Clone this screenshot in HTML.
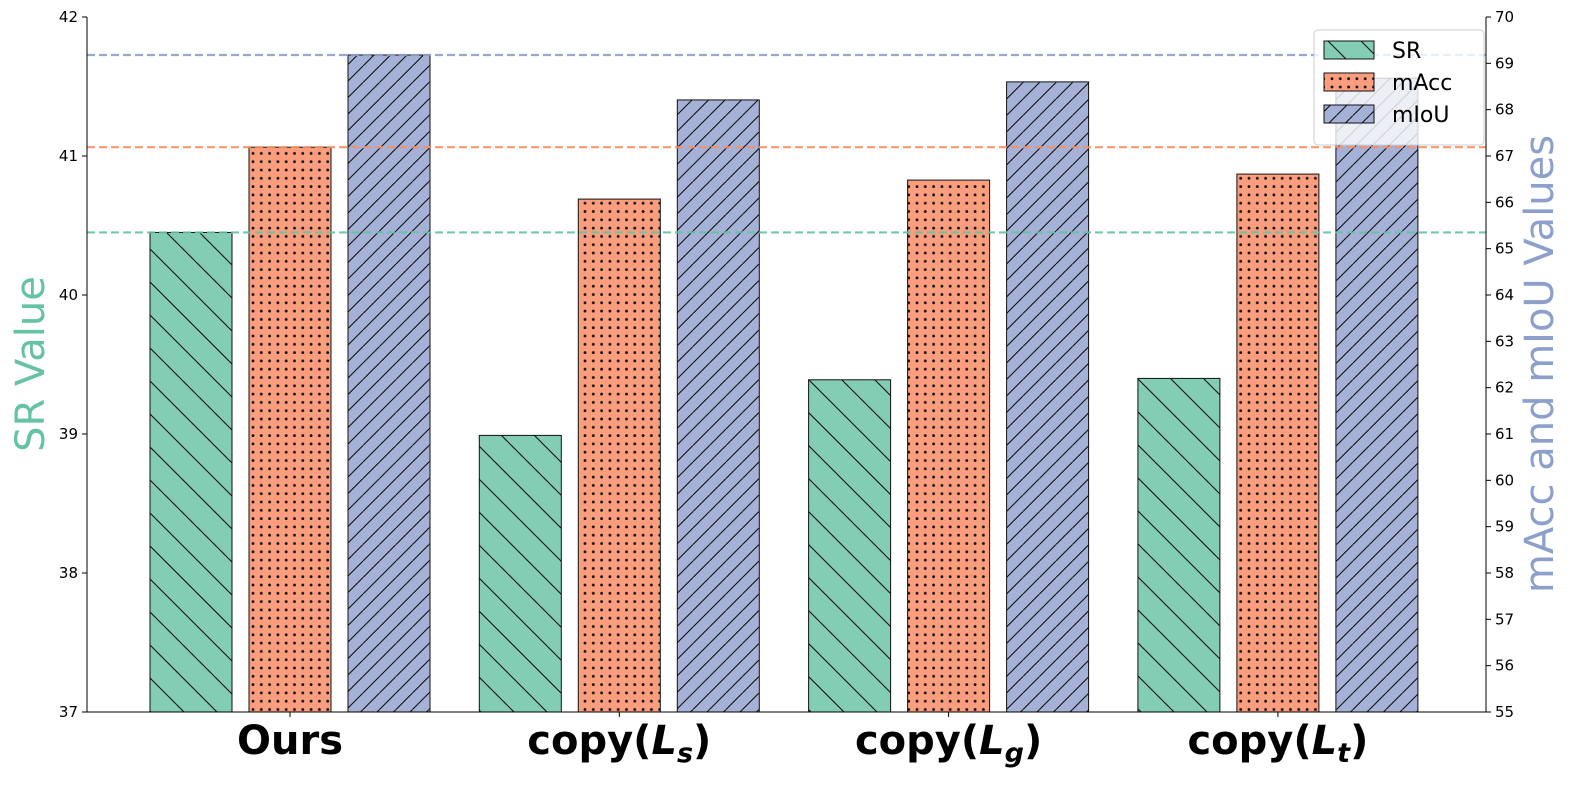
<!DOCTYPE html>
<html><head><meta charset="utf-8"><style>
html,body{margin:0;padding:0;background:#fff;overflow:hidden;width:1589px;height:790px;}
svg{display:block;font-family:"DejaVu Sans","Liberation Sans",sans-serif;}
</style></head><body>
<svg id="chart" width="1589" height="790" viewBox="0 0 1589 790" xmlns="http://www.w3.org/2000/svg">
<defs>
<pattern id="hSR" patternUnits="userSpaceOnUse" width="33" height="33"><rect width="33" height="33" fill="#83cdb4"/><path d="M0,0L33,33M-33,0L0,33M33,0L66,33M0,-33L33,0M0,33L33,66" stroke="#111" stroke-width="1.1"/></pattern>
<pattern id="hAcc" patternUnits="userSpaceOnUse" width="8.3" height="8.3"><rect width="8.3" height="8.3" fill="#fc9e7e"/><circle cx="4" cy="4" r="1.4" fill="#111"/></pattern>
<pattern id="hIoU" patternUnits="userSpaceOnUse" width="16.5" height="16.5"><rect width="16.5" height="16.5" fill="#a5b1d6"/><path d="M0,16.5L16.5,0M-16.5,16.5L0,0M16.5,16.5L33,0" stroke="#111" stroke-width="1.1"/></pattern>
</defs>
<g id="plot"></g>
</svg>
<script>
const categories=["Ours","copy(Ls)","copy(Lg)","copy(Lt)"];
const catSub=["","s","g","t"];
const srValues=[40.45,38.99,39.39,39.40];
const maccValues=[67.19,66.07,66.48,66.61];
const miouValues=[69.18,68.21,68.60,68.68];
const leftTicks=[37,38,39,40,41,42];
const rightTicks=[55,56,57,58,59,60,61,62,63,64,65,66,67,68,69,70];

const NS="http://www.w3.org/2000/svg";
const g=document.getElementById('plot');
const X0=87,X1=1486,Y0=712,Y1=17;
const yL=v=>Y0-(v-37)/(42-37)*(Y0-Y1);
const yR=v=>Y0-(v-55)/(70-55)*(Y0-Y1);
const xC=i=>290+i*329.3;
function mk(t,a,txt){const e=document.createElementNS(NS,t);for(const k in a)e.setAttribute(k,a[k]);if(txt!==undefined)e.textContent=txt;g.appendChild(e);return e;}

const series=[
 {vals:srValues,fill:"url(#hSR)",y:yL,off:-99,name:"sr"},
 {vals:maccValues,fill:"url(#hAcc)",y:yR,off:0,name:"macc"},
 {vals:miouValues,fill:"url(#hIoU)",y:yR,off:99,name:"miou"}];
series.forEach(s=>{
 s.vals.forEach((v,i)=>{
  const top=s.y(v);
  const r=mk('rect',{x:xC(i)+s.off-41,y:top,width:82,height:Y0-top,fill:s.fill,stroke:"#111","stroke-width":1});
  
  
 });
});
[[yL(srValues[0]),"#66c2a5","ref-line-sr"],[yR(maccValues[0]),"#fc8d62","ref-line-macc"],[yR(miouValues[0]),"#8da0cb","ref-line-miou"]].forEach(d=>{
 const l=mk('line',{x1:X0,x2:X1,y1:d[0],y2:d[0],stroke:d[1],"stroke-width":2.2,"stroke-dasharray":"8,4",opacity:0.9});
 
 
});
let a=mk('line',{x1:X0,x2:X0,y1:Y1,y2:Y0,stroke:"#000","stroke-width":1});

a=mk('line',{x1:X1,x2:X1,y1:Y1,y2:Y0,stroke:"#000","stroke-width":1});

a=mk('line',{x1:X0,x2:X1,y1:Y0,y2:Y0,stroke:"#000","stroke-width":1});

leftTicks.forEach(t=>{const y=yL(t);mk('line',{x1:X0-5,x2:X0,y1:y,y2:y,stroke:"#000"});
 const e=mk('text',{x:X0-9,y:y+5,"text-anchor":"end","font-size":15},String(t));
 });
rightTicks.forEach(t=>{const y=yR(t);mk('line',{x1:X1,x2:X1+5,y1:y,y2:y,stroke:"#000"});
 const e=mk('text',{x:X1+9,y:y+5,"font-size":15},String(t));
 });
categories.forEach((c,i)=>{const x=xC(i);mk('line',{x1:x,x2:x,y1:Y0,y2:Y0+5,stroke:"#000"});
 const e=mk('text',{x:x,y:Y0+42,"text-anchor":"middle","font-size":40,"font-weight":"bold"});
 if(catSub[i]){e.innerHTML='copy(<tspan font-style="italic">L</tspan><tspan font-style="italic" font-size="27" dy="8">'+catSub[i]+'</tspan><tspan dy="-8">)</tspan>';}
 else e.textContent=c;
 });
let t=mk('text',{x:0,y:0,"font-size":40,fill:"#66c2a5","text-anchor":"middle",transform:"translate(44,364) rotate(-90)"},"SR Value");

t=mk('text',{x:0,y:0,"font-size":40,fill:"#8da0cb","text-anchor":"middle",transform:"translate(1553,364) rotate(-90)"},"mAcc and mIoU Values");

const lg=mk('rect',{x:1314,y:30,width:170,height:115,rx:4,fill:"#fff","fill-opacity":0.8,stroke:"#ccc"});

[["SR","url(#hSR)"],["mAcc","url(#hAcc)"],["mIoU","url(#hIoU)"]].forEach((d,i)=>{
 const y=41+i*32;
 const r=mk('rect',{x:1324,y:y,width:50,height:18,fill:d[1],stroke:"#111"});
 
 const e=mk('text',{x:1392,y:y+17,"font-size":22},d[0]);
 
});
</script>
</body></html>
